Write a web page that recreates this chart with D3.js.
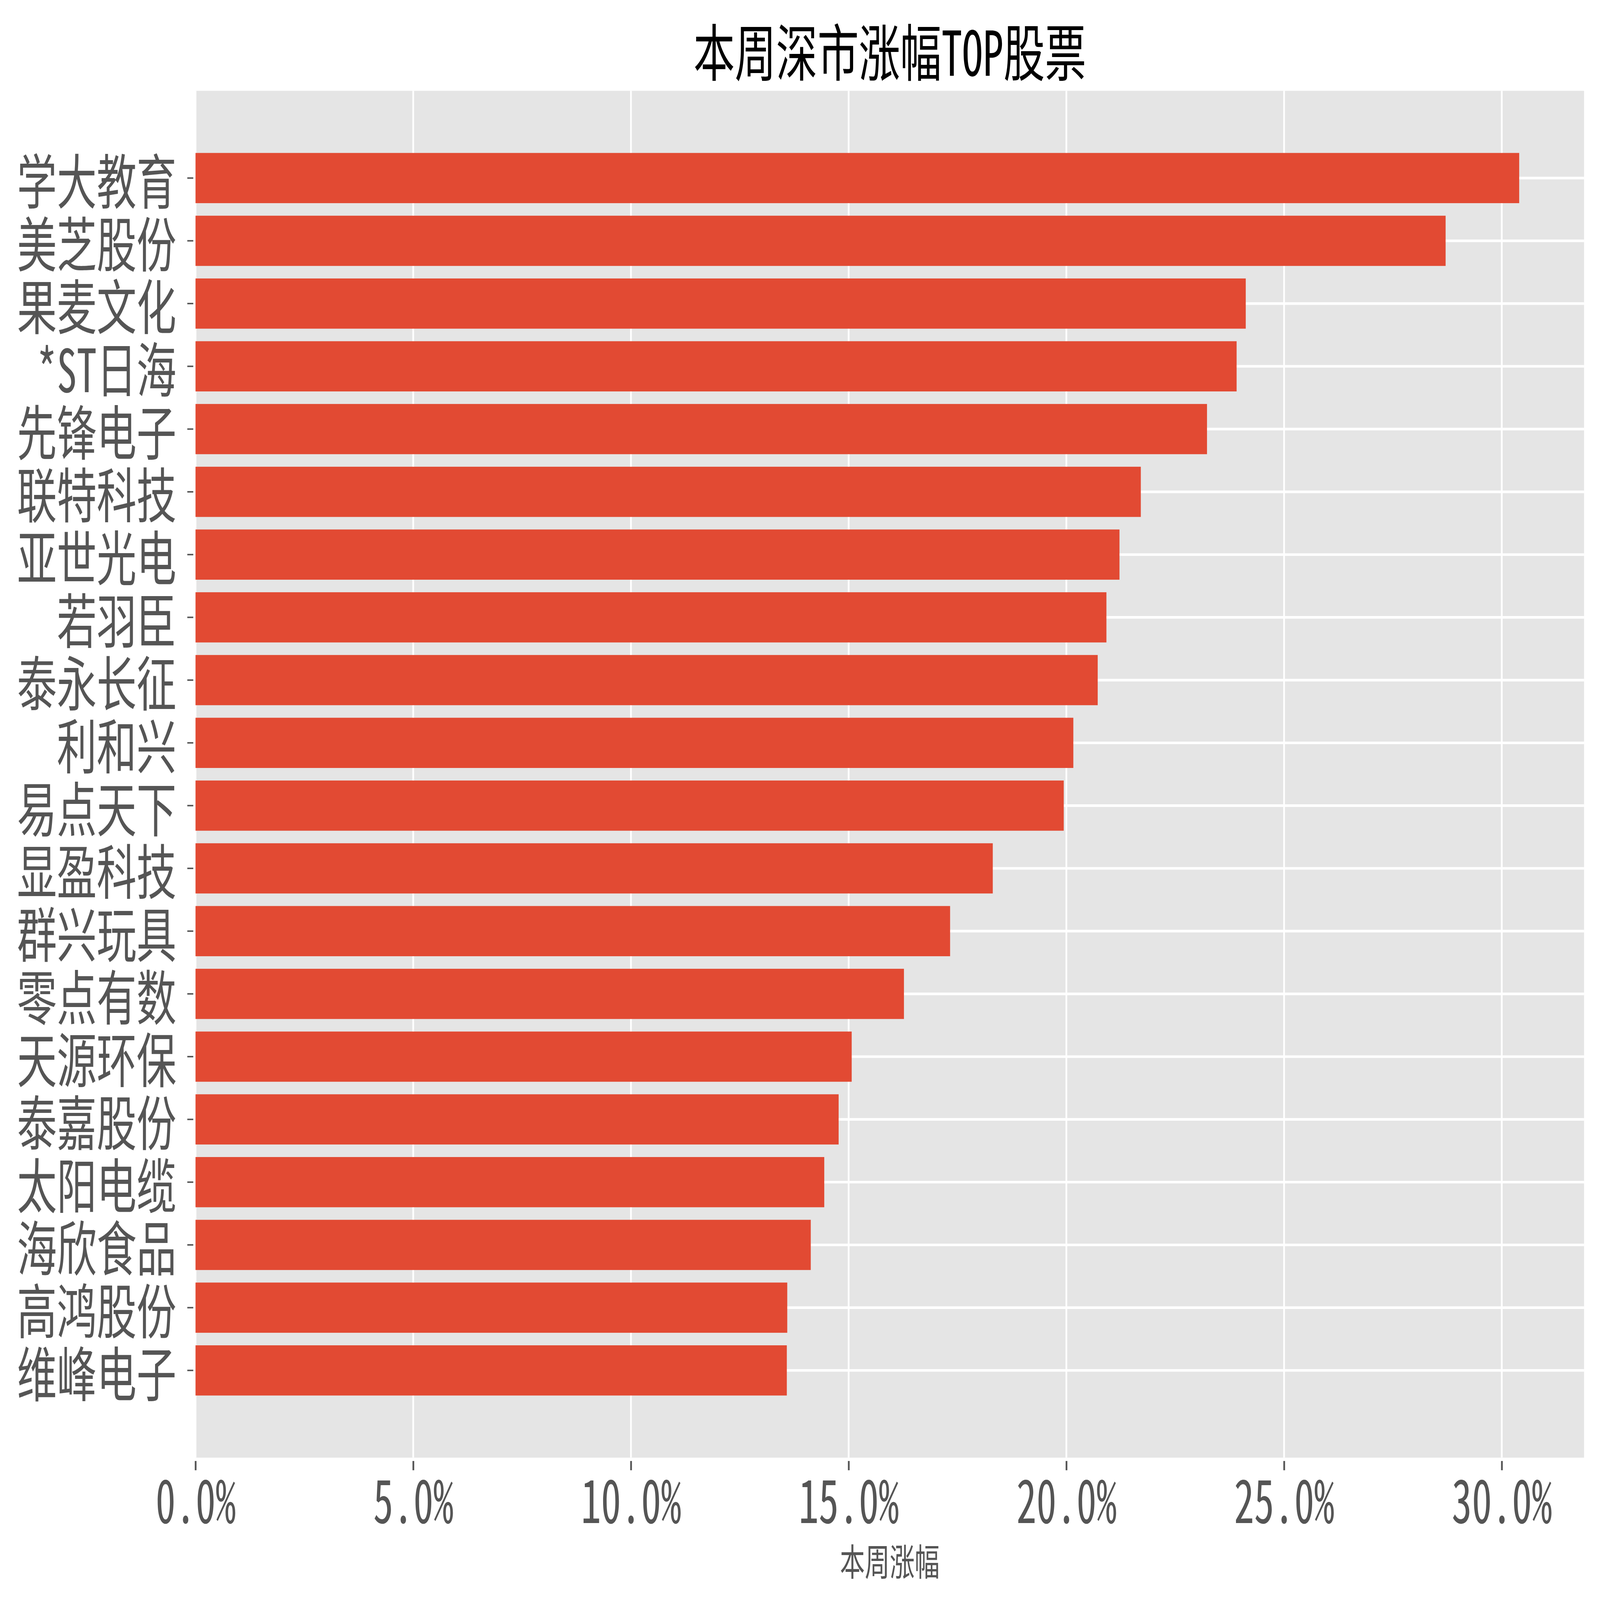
<!DOCTYPE html>
<html>
<head>
<meta charset="utf-8">
<script src="https://cdn.jsdelivr.net/npm/d3@7"></script>
<style>
html,body{margin:0;padding:0;background:#fff;overflow:hidden}
svg{display:block}
text{font-family:"Noto Sans Mono CJK SC","Noto Sans CJK SC",sans-serif}
</style>
</head>
<body>
<script>

// stock names, top to bottom
var names = ["学大教育", "美芝股份", "果麦文化", "*ST日海", "先锋电子",
             "联特科技", "亚世光电", "若羽臣", "泰永长征", "利和兴",
             "易点天下", "显盈科技", "群兴玩具", "零点有数", "天源环保",
             "泰嘉股份", "太阳电缆", "海欣食品", "高鸿股份", "维峰电子"];

// weekly change, percent
var changes = [30.40, 28.71, 24.12, 23.91, 23.23,
               21.71, 21.22, 20.92, 20.72, 20.16,
               19.94, 18.31, 17.33, 16.27, 15.07,
               14.77, 14.44, 14.13, 13.59, 13.58];

var xTicks = [0, 5, 10, 15, 20, 25, 30];
var title = "本周深市涨幅TOP股票";
var xLabel = "本周涨幅";

// drawing is laid out on the 6424x4316 figure, then fitted to the window
var W = 6424, H = 4316;
var plotL = 785, plotR = 6360, plotT = 245, plotB = 3932;

var x = d3.scaleLinear()
    .domain([0, d3.max(changes) * 1.049])
    .range([plotL, plotR]);

var y = d3.scaleBand()
    .domain(names)
    .range([plotT, plotB])
    .paddingInner(0.2)
    .paddingOuter(0.99);

var svg = d3.select("body").append("svg")
    .attr("viewBox", "0 0 " + W + " " + H)
    .attr("preserveAspectRatio", "none")
    .attr("width", window.innerWidth || W)
    .attr("height", window.innerHeight || H);

svg.append("rect")
    .attr("x", plotL).attr("y", plotT)
    .attr("width", plotR - plotL).attr("height", plotB - plotT)
    .attr("fill", "#E5E5E5");

// grid
svg.append("g").selectAll("line")
    .data(xTicks)
    .enter().append("line")
    .attr("x1", x).attr("x2", x)
    .attr("y1", plotT).attr("y2", plotB)
    .attr("stroke", "#fff")
    .attr("stroke-width", 7);

svg.append("g").selectAll("line")
    .data(names)
    .enter().append("line")
    .attr("x1", plotL).attr("x2", plotR)
    .attr("y1", function(d){return y(d) + y.bandwidth() / 2;})
    .attr("y2", function(d){return y(d) + y.bandwidth() / 2;})
    .attr("stroke", "#fff")
    .attr("stroke-width", 7);

// bars
svg.append("g").selectAll("rect")
    .data(changes)
    .enter().append("rect")
    .attr("x", x(0))
    .attr("y", function(d, i){return y(names[i]);})
    .attr("width", function(d){return x(d) - x(0);})
    .attr("height", y.bandwidth())
    .attr("fill", "#E24A33");

// x axis
var xAxis = d3.axisBottom(x)
    .tickValues(xTicks)
    .tickFormat(function(d){return d3.format(".1f")(d) + "%";})
    .tickSize(34)
    .tickSizeOuter(0);

var gx = svg.append("g")
    .attr("transform", "translate(0," + plotB + ")")
    .call(xAxis);
gx.select(".domain").remove();
gx.selectAll(".tick line")
    .attr("y1", 9)
    .attr("stroke", "#555555")
    .attr("stroke-width", 7);
gx.selectAll(".tick text")
    .attr("y", 176)
    .attr("dy", null)
    .attr("fill", "#555555")
    .style("font-size", "161px");

// y axis
var yAxis = d3.axisLeft(y)
    .tickSize(33)
    .tickSizeOuter(0);

var gy = svg.append("g")
    .attr("transform", "translate(" + plotL + ",0)")
    .call(yAxis);
gy.select(".domain").remove();
gy.selectAll(".tick line")
    .attr("x1", -9)
    .attr("stroke", "#555555")
    .attr("stroke-width", 4);
gy.selectAll(".tick text")
    .attr("x", -77)
    .attr("dy", null)
    .attr("dominant-baseline", "central")
    .attr("fill", "#555555")
    .style("font-size", "160px");

// title and label
svg.append("text")
    .attr("x", (plotL + plotR) / 2)
    .attr("y", 132)
    .attr("text-anchor", "middle")
    .attr("dominant-baseline", "central")
    .attr("fill", "#000")
    .style("font-size", "166px")
    .text(title);

svg.append("text")
    .attr("x", (plotL + plotR) / 2)
    .attr("y", 4207)
    .attr("text-anchor", "middle")
    .attr("dominant-baseline", "central")
    .attr("fill", "#555555")
    .style("font-size", "100px")
    .text(xLabel);

</script>
</body>
</html>
